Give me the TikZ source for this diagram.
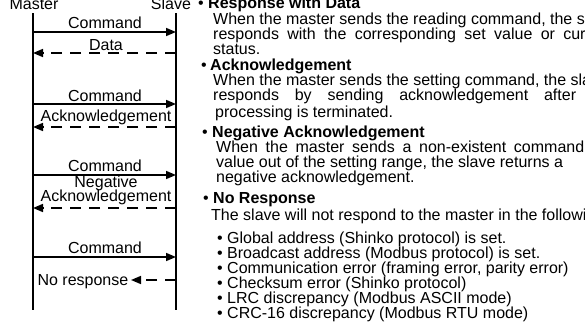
\documentclass[tikz,border=0pt]{standalone}
\usepackage{fontspec}
\setmainfont{Liberation Sans}
\usetikzlibrary{arrows.meta}
\begin{document}
\begin{tikzpicture}[x=1pt,y=-1pt,
  lifeline/.style={line width=1.6pt},
  cmd/.style={line width=1.6pt,-{Triangle[length=10pt,width=8pt]}},
  resp/.style={line width=1.6pt,dash pattern=on 11pt off 8pt,-{Triangle[length=10pt,width=8pt]}},
  lbl/.style={inner sep=0pt,anchor=base,font=\fontsize{16}{15}\selectfont},
  txt/.style={inner sep=0pt,anchor=base west,font=\fontsize{16}{15}\selectfont},
  hd/.style={inner sep=0pt,anchor=base west,font=\fontsize{16}{15}\selectfont\bfseries},
  bul/.style={inner sep=0pt,anchor=base,font=\fontsize{16}{15}\selectfont},
]
\useasboundingbox (0,0) rectangle (585,335);
\clip (0,0) rectangle (585,335);
% headers
\node[lbl] (master) at (34,9) {Master};
\node[lbl] (slave) at (171,9) {Slave};
% lifelines
\coordinate (mtop) at (33,13); \coordinate (mbot) at (33,310);
\coordinate (stop) at (176,13); \coordinate (sbot) at (176,310);
\draw[lifeline] (mtop) -- (mbot);
\draw[lifeline] (stop) -- (sbot);
% message points
\foreach \n/\y in {1/32,2/53,3/104,4/127,5/175,6/208,7/257,8/280}{
  \coordinate (m\n) at (33,\y); \coordinate (s\n) at (176,\y);
}
\draw[cmd] (m1) -- (s1);
\node[lbl] (c1) at (105,28.5) {Command};
\draw[resp] (s2) -- (m2);
\node[lbl] (d1) at (106,50) {Data};
\draw[cmd] (m3) -- (s3);
\node[lbl] (c2) at (105,101) {Command};
\draw[resp] (s4) -- (m4);
\node[lbl] (a1) at (106,121) {Acknowledgement};
\draw[cmd] (m5) -- (s5);
\node[lbl] (c3) at (105,171) {Command};
\draw[resp] (s6) -- (m6);
\node[lbl] (n1) at (106,187) {Negative};
\node[lbl] (n2) at (106,201) {Acknowledgement};
\draw[cmd] (m7) -- (s7);
\node[lbl] (c4) at (105,253) {Command};
\node[lbl,anchor=base east] (nrt) at (128.5,285.5) {No response};
\coordinate (nrtip) at (131,280);
\draw[resp] (s8) -- (nrtip);
% right text
\node[bul] (b1) at (201,8) {•};
\node[hd] (h1) at (208,8) {Response with Data};
\node[txt] (t11) at (213,24) {\makebox[401pt][s]{When the master sends the reading command, the slave}};
\node[txt] (t12) at (213,39) {\makebox[400pt][s]{responds with the corresponding set value or current}};
\node[txt] (t13) at (213,54) {status.};
\node[bul] (b2) at (204,70) {•};
\node[hd] (h2) at (210,70) {Acknowledgement};
\node[txt] (t21) at (213,85) {When the master sends the setting command, the slave};
\node[txt] (t22) at (213,100) {\makebox[401pt][s]{responds by sending acknowledgement after the}};
\node[txt] (t23) at (215,117) {processing is terminated.};
\node[bul] (b3) at (205,137) {•};
\node[hd] (h3) at (212,137) {Negative Acknowledgement};
\node[txt] (t31) at (216,152) {\makebox[390pt][s]{When the master sends a non-existent command or}};
\node[txt] (t32) at (216,167) {value out of the setting range, the slave returns a};
\node[txt] (t33) at (216,182) {negative acknowledgement.};
\node[bul] (b4) at (206,203) {•};
\node[hd] (h4) at (213,203) {No Response};
\node[txt] (t41) at (211,220) {The slave will not respond to the master in the following cases.};
\foreach \i/\y/\t in {1/243/{Global address (Shinko protocol) is set.},
  2/258/{Broadcast address (Modbus protocol) is set.},
  3/273/{Communication error (framing error, parity error)},
  4/288/{Checksum error (Shinko protocol)},
  5/303/{LRC discrepancy (Modbus ASCII mode)},
  6/318/{CRC-16 discrepancy (Modbus RTU mode)}}{
  \node[bul] (sb\i) at (220,\y) {•};
  \node[txt] (st\i) at (227,\y) {\t};
}
\end{tikzpicture}
\end{document}
